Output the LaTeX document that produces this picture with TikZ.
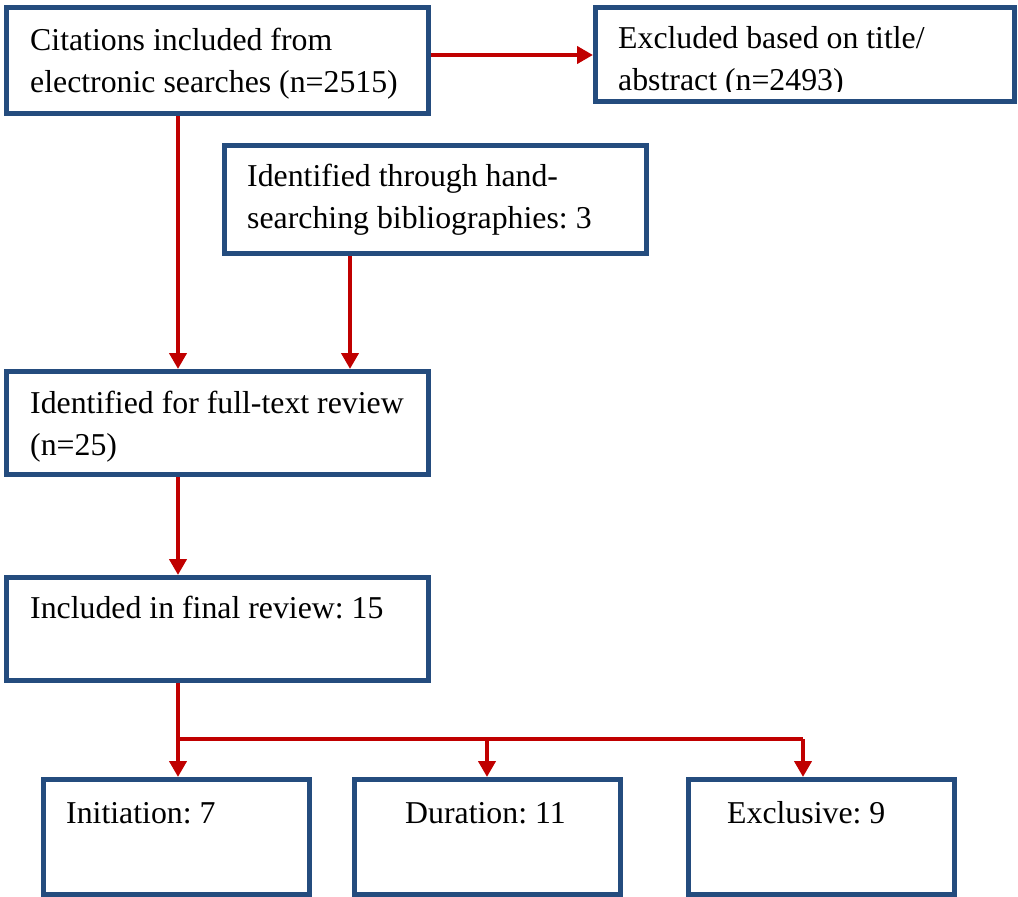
\documentclass[tikz,border=0pt]{standalone}
\usepackage{fontspec}
\setmainfont{Liberation Serif}
\frenchspacing
\usetikzlibrary{arrows.meta}
\definecolor{boxblue}{RGB}{36,76,126}
\definecolor{arrred}{RGB}{192,0,0}
\begin{document}
\begin{tikzpicture}[x=1pt,y=-1pt,
  box/.style={draw=boxblue,line width=5pt,fill=white,rectangle,inner sep=0pt,minimum height=#1},
  box/.default=103,
  txt/.style={anchor=base west,inner sep=0pt,font=\fontsize{31.8}{42}\selectfont},
  link/.style={draw=arrred,line width=4.5pt},
  arr/.style={link,-{Triangle[width=17pt,length=16pt]}}]
\useasboundingbox (0,0) rectangle (1018,897);
% boxes
\node[box=106,minimum width=422] (b1) at (217.5,60.5) {};
\node[box=94,minimum width=419] (b2) at (805,54.5) {};
\node[box=108,minimum width=422] (b3) at (435.5,199.5) {};
\node[box=103,minimum width=422] (b4) at (217.5,423) {};
\node[box=103,minimum width=422] (b5) at (217.5,629) {};
\node[box=115,minimum width=266] (b6) at (176.5,837) {};
\node[box=115,minimum width=266] (b7) at (487.5,837) {};
\node[box=115,minimum width=266] (b8) at (821.5,837) {};
% texts
\node[txt] (t1a) at (30,50) {Citations included from};
\node[txt] (t1b) at (30,92) {electronic searches (n=2515)};
\begin{scope}
\clip (596,10) rectangle (1012,91.5);
\node[txt] (t2a) at (618,48) {Excluded based on title/};
\node[txt] (t2b) at (618,90) {abstract (n=2493)};
\end{scope}
\node[txt] (t3a) at (247,186) {Identified through hand-};
\node[txt] (t3b) at (247,228) {searching bibliographies: 3};
\node[txt] (t4a) at (30,413) {Identified for full-text review};
\node[txt] (t4b) at (30,455) {(n=25)};
\node[txt] (t5) at (30,618) {Included in final review: 15};
\node[txt] (t6) at (66,823) {Initiation: 7};
\node[txt] (t7) at (405,823) {Duration: 11};
\node[txt] (t8) at (727,823) {Exclusive: 9};
% connectors
\coordinate (r1) at (0,55);
\coordinate (c1) at (178,0);
\coordinate (c2) at (350,0);
\coordinate (j) at (178,739);
\coordinate (jm) at (487,739);
\coordinate (jr) at (803,739);
\draw[arr] (b1.east |- r1) -- (b2.west |- r1);
\draw[arr] (b1.south -| c1) -- (b4.north -| c1);
\draw[arr] (b3.south -| c2) -- (b4.north -| c2);
\draw[arr] (b4.south -| c1) -- (b5.north -| c1);
\draw[arr] (b5.south -| c1) -- (b6.north -| c1);
\draw[link] (j) -- (jr);
\draw[arr] (jm) -- (b7.north -| jm);
\draw[arr] (jr) -- (b8.north -| jr);
\end{tikzpicture}
\end{document}
